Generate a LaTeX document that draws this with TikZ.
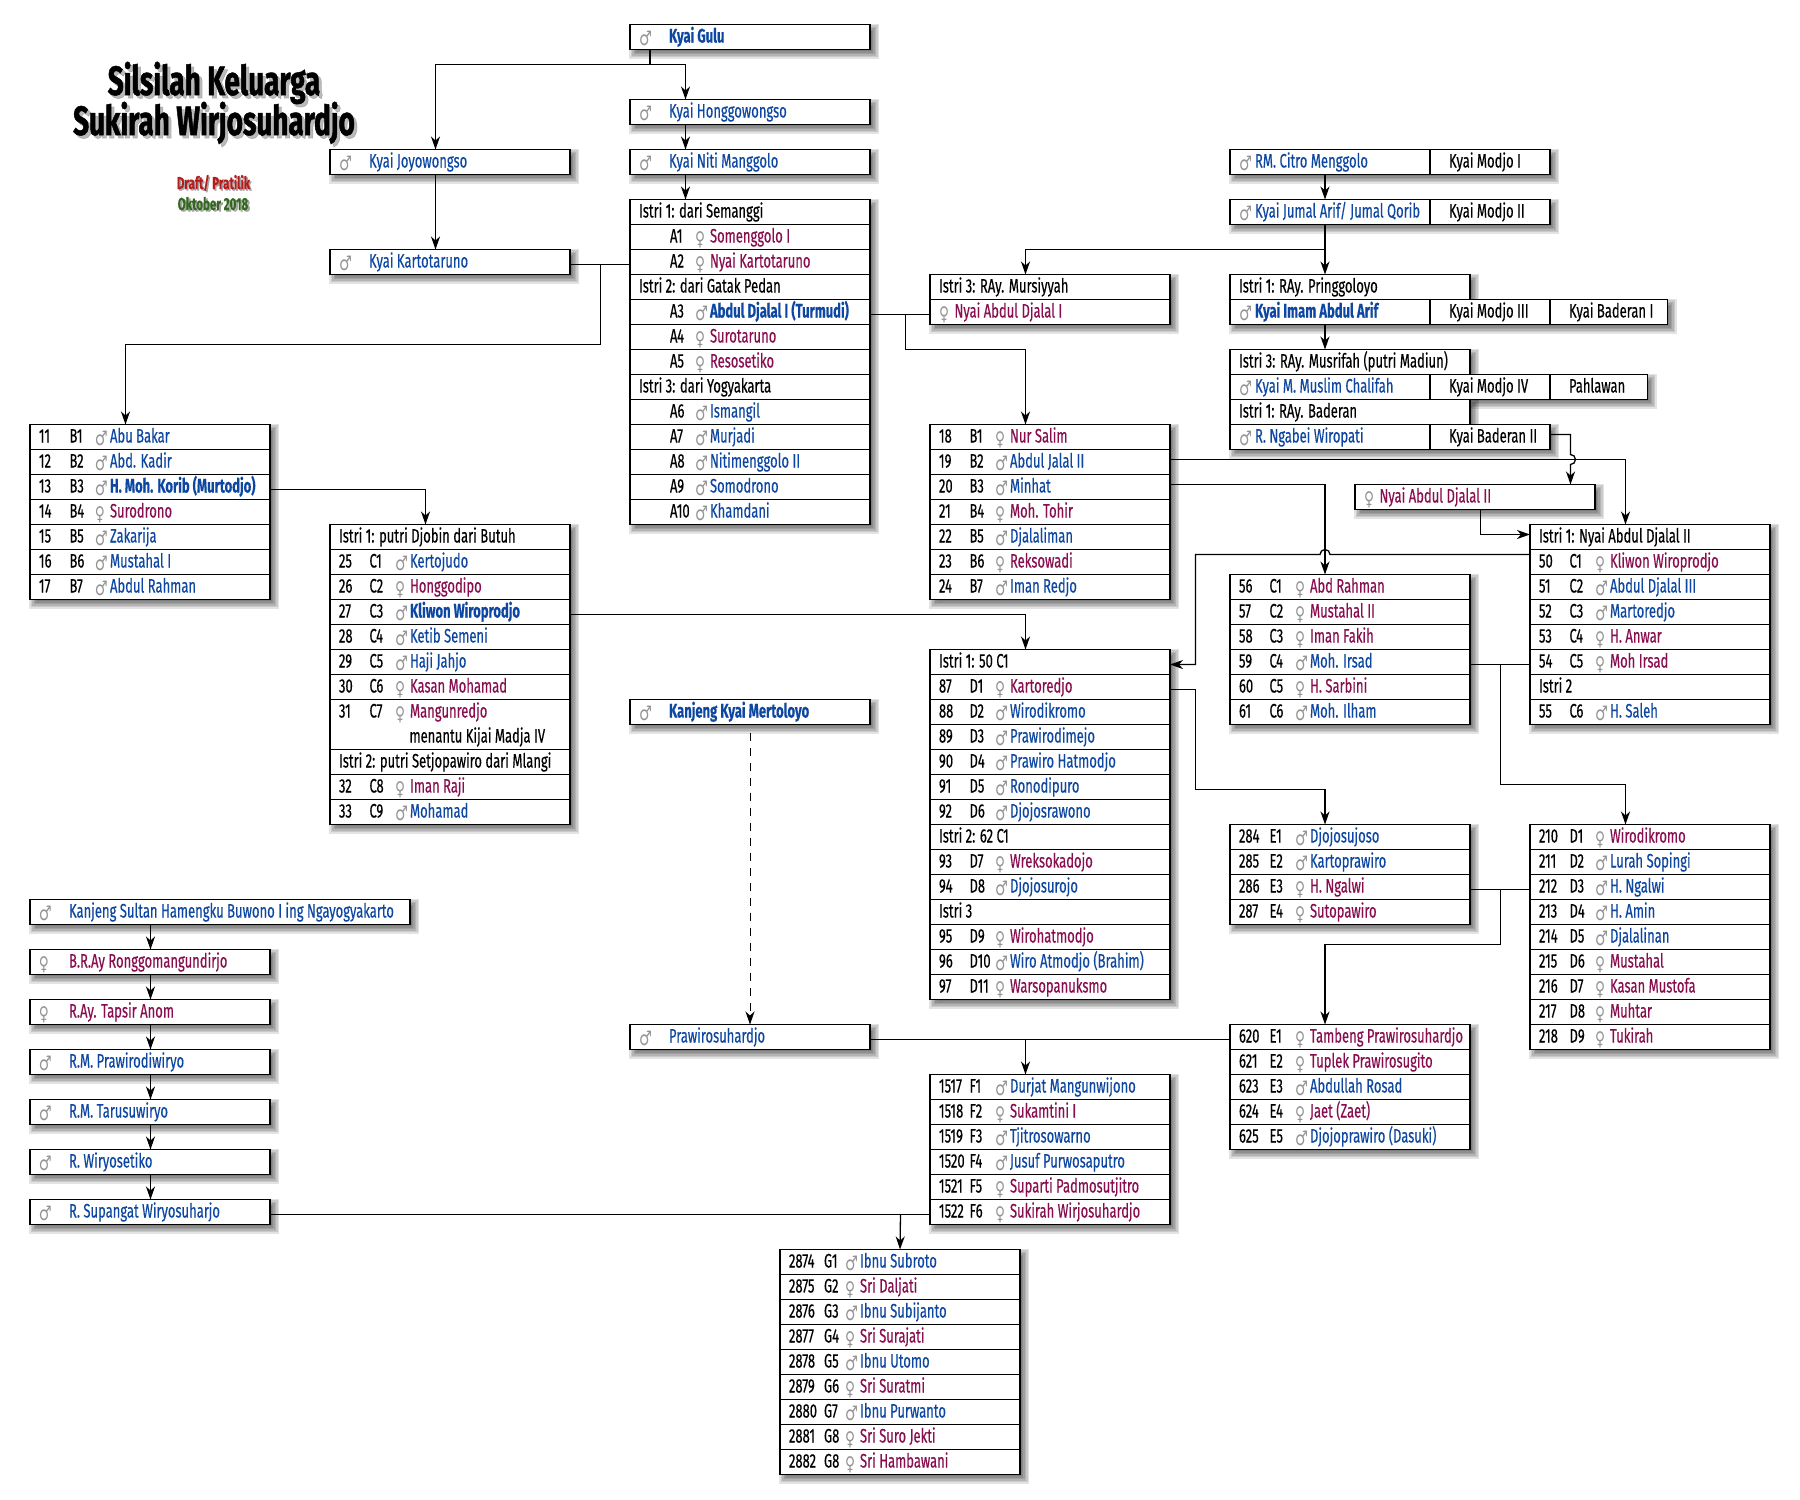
\documentclass[tikz,border=0pt]{standalone}
\usepackage{fontspec}
\usepackage{xcolor}
\usetikzlibrary{arrows.meta}
\setmainfont[FakeStretch=0.667,FakeBold=0.35]{Fira Sans}
\newfontfamily\titlef[FakeStretch=0.68,FakeBold=1.2]{Fira Sans}
\newfontfamily\symf[FakeStretch=0.72]{DejaVu Sans}
\definecolor{mblue}{HTML}{0D47A1}
\definecolor{mpink}{HTML}{880E4F}
\definecolor{mred}{HTML}{B71C1C}
\definecolor{mgreen}{HTML}{33691E}
\newlength\symw
\setlength\symw{15pt}
\newcommand\sm{\raisebox{-3pt}{\textcolor{black!42}{\fontsize{20}{20}\symf ♂}}}
\newcommand\sw{\raisebox{-3pt}{\textcolor{black!42}{\fontsize{19}{19}\symf ♀}}}
\newcommand\M[1]{\makebox[\symw][l]{\sm}\textcolor{mblue}{#1}}
\newcommand\MB[1]{\makebox[\symw][l]{\sm}\textcolor{mblue}{\bfseries #1}}
\newcommand\W[1]{\makebox[\symw][l]{\sw}\textcolor{mpink}{#1}}
\tikzset{
  cell/.style={draw=black,fill=white,line width=1.5pt,anchor=north west,inner sep=0pt,outer sep=0pt,text height=18pt,text depth=7pt,font=\fontsize{19.5}{21}\selectfont},
  plain/.style={anchor=north west,inner sep=0pt,outer sep=0pt,text height=18pt,text depth=7pt,font=\fontsize{19.5}{21}\selectfont},
  link/.style={line width=1.3pt,draw=black},
  arr/.style={link,-{Stealth[length=13pt,width=9pt,inset=4pt]}},
}
% shadow: x, k, width, rows
\newcommand\shad[4]{\foreach \s in {5,3.5,2,0.5,-1,-2.5}{\fill[black,opacity=.11] ({#1+4-\s},{24.5+25*#2+4-\s}) rectangle ({#1+#3+4+\s},{24.5+25*#2+25*#4+4+\s});}}
\newcommand\R[6]{\node[cell] (#1) at (#2,{24.5+25*#3}) {\makebox[240pt][l]{\hspace*{9pt}\makebox[30.5pt][l]{#4}\makebox[25.5pt][l]{#5}#6}};}
\newcommand\Gr[5]{\node[cell] (#1) at (780,{24.5+25*#2}) {\makebox[240pt][l]{\hspace*{9pt}\makebox[35pt][l]{#3}\makebox[21pt][l]{#4}#5}};}
\newcommand\A[4]{\node[cell] (#1) at (630,{24.5+25*#2}) {\makebox[240pt][l]{\hspace*{40pt}\makebox[25pt][l]{#3}#4}};}
\newcommand\Hd[5]{\node[cell] (#1) at (#2,{24.5+25*#3}) {\makebox[#4pt][l]{\hspace*{9pt}#5}};}
\newcommand\Pn[6]{\node[cell] (#1) at (#2,{24.5+25*#3}) {\symw=#5pt\makebox[#4pt][l]{\hspace*{9pt}#6}};}
\newcommand\Cl[5]{\node[cell] (#1) at (#2,{24.5+25*#3}) {\makebox[#4pt][l]{\hspace*{19pt}#5}};}
\begin{document}
\begin{tikzpicture}[x=1pt,y=-1pt]
\useasboundingbox (0,0) rectangle (1800,1500);
% title
\node[anchor=base,inner sep=0pt,text=black!45,opacity=.6,font=\titlef\bfseries\fontsize{41}{41}\selectfont] (ts1) at (217,98) {Silsilah Keluarga};
\node[anchor=base,inner sep=0pt,text=black!45,opacity=.6,font=\titlef\bfseries\fontsize{41}{41}\selectfont] (ts2) at (217,138) {Sukirah Wirjosuhardjo};
\node[anchor=base,inner sep=0pt,font=\titlef\bfseries\fontsize{41}{41}\selectfont] (t1) at (214,95) {Silsilah Keluarga};
\node[anchor=base,inner sep=0pt,font=\titlef\bfseries\fontsize{41}{41}\selectfont] (t2) at (214,135) {Sukirah Wirjosuhardjo};
\node[anchor=base,inner sep=0pt,text=black!35,font=\bfseries\fontsize{17.3}{17}\selectfont] (d0) at (215,190.5) {Draft/ Pratilik};
\node[anchor=base,inner sep=0pt,text=black!35,font=\bfseries\fontsize{17.3}{17}\selectfont] (o0) at (215,211.5) {Oktober 2018};
\node[anchor=base,inner sep=0pt,text=mred,font=\bfseries\fontsize{17.3}{17}\selectfont] (d1) at (213.5,189) {Draft/ Pratilik};
\node[anchor=base,inner sep=0pt,text=mgreen,font=\bfseries\fontsize{17.3}{17}\selectfont] (o1) at (213,210) {Oktober 2018};
% single boxes
\shad{630}{0}{240}{1}\Pn{gulu}{630}{0}{240}{30}{\MB{Kyai Gulu}}
\shad{630}{3}{240}{1}\Pn{hong}{630}{3}{240}{30}{\M{Kyai Honggowongso}}
\shad{630}{5}{240}{1}\Pn{niti}{630}{5}{240}{30}{\M{Kyai Niti Manggolo}}
\shad{330}{5}{240}{1}\Pn{joyo}{330}{5}{240}{30}{\M{Kyai Joyowongso}}
\shad{330}{9}{240}{1}\Pn{karto}{330}{9}{240}{30}{\M{Kyai Kartotaruno}}
\shad{630}{27}{240}{1}\Pn{mert}{630}{27}{240}{30}{\MB{Kanjeng Kyai Mertoloyo}}
\shad{630}{40}{240}{1}\Pn{praw}{630}{40}{240}{30}{\M{Prawirosuhardjo}}
% left stack
\shad{30}{35}{380}{1}\Pn{l1}{30}{35}{380}{30}{\M{Kanjeng Sultan Hamengku Buwono I ing Ngayogyakarto}}
\shad{30}{37}{240}{1}\Pn{l2}{30}{37}{240}{30}{\W{B.R.Ay Ronggomangundirjo}}
\shad{30}{39}{240}{1}\Pn{l3}{30}{39}{240}{30}{\W{R.Ay. Tapsir Anom}}
\shad{30}{41}{240}{1}\Pn{l4}{30}{41}{240}{30}{\M{R.M. Prawirodiwiryo}}
\shad{30}{43}{240}{1}\Pn{l5}{30}{43}{240}{30}{\M{R.M. Tarusuwiryo}}
\shad{30}{45}{240}{1}\Pn{l6}{30}{45}{240}{30}{\M{R. Wiryosetiko}}
\shad{30}{47}{240}{1}\Pn{l7}{30}{47}{240}{30}{\M{R. Supangat Wiryosuharjo}}
% A box
\shad{630}{7}{240}{13}
\Hd{ai1}{630}{7}{240}{Istri 1: dari Semanggi}
\A{a1}{8}{A1}{\W{Somenggolo I}}
\A{a2}{9}{A2}{\W{Nyai Kartotaruno}}
\Hd{ai2}{630}{10}{240}{Istri 2: dari Gatak Pedan}
\A{a3}{11}{A3}{\MB{Abdul Djalal I (Turmudi)}}
\A{a4}{12}{A4}{\W{Surotaruno}}
\A{a5}{13}{A5}{\W{Resosetiko}}
\Hd{ai3}{630}{14}{240}{Istri 3: dari Yogyakarta}
\A{a6}{15}{A6}{\M{Ismangil}}
\A{a7}{16}{A7}{\M{Murjadi}}
\A{a8}{17}{A8}{\M{Nitimenggolo II}}
\A{a9}{18}{A9}{\M{Somodrono}}
\A{a10}{19}{A10}{\M{Khamdani}}
% B1
\shad{30}{16}{240}{7}
\R{b11}{30}{16}{11}{B1}{\M{Abu Bakar}}
\R{b12}{30}{17}{12}{B2}{\M{Abd. Kadir}}
\R{b13}{30}{18}{13}{B3}{\MB{H. Moh. Korib (Murtodjo)}}
\R{b14}{30}{19}{14}{B4}{\W{Surodrono}}
\R{b15}{30}{20}{15}{B5}{\M{Zakarija}}
\R{b16}{30}{21}{16}{B6}{\M{Mustahal I}}
\R{b17}{30}{22}{17}{B7}{\M{Abdul Rahman}}
% C1
\shad{330}{20}{240}{12}
\Hd{ci1}{330}{20}{240}{Istri 1: putri Djobin dari Butuh}
\R{c25}{330}{21}{25}{C1}{\M{Kertojudo}}
\R{c26}{330}{22}{26}{C2}{\W{Honggodipo}}
\R{c27}{330}{23}{27}{C3}{\MB{Kliwon Wiroprodjo}}
\R{c28}{330}{24}{28}{C4}{\M{Ketib Semeni}}
\R{c29}{330}{25}{29}{C5}{\M{Haji Jahjo}}
\R{c30}{330}{26}{30}{C6}{\W{Kasan Mohamad}}
\node[cell,text depth=32pt] (c31) at (330,{24.5+25*27}) {\makebox[240pt][l]{\hspace*{9pt}\makebox[30.5pt][l]{31}\makebox[25.5pt][l]{C7}\W{Mangunredjo}}};
\node[plain] (c31b) at (330,{24.5+25*28}) {\makebox[240pt][l]{\hspace*{79.5pt}menantu Kijai Madja IV}};
\Hd{ci2}{330}{29}{240}{Istri 2: putri Setjopawiro dari Mlangi}
\R{c32}{330}{30}{32}{C8}{\W{Iman Raji}}
\R{c33}{330}{31}{33}{C9}{\M{Mohamad}}
% right tops
\shad{1230}{5}{320}{1}
\Pn{citro}{1230}{5}{200}{16}{\M{RM. Citro Menggolo}}\Cl{modj1}{1430}{5}{120}{Kyai Modjo I}
\shad{1230}{7}{320}{1}
\Pn{jumal}{1230}{7}{200}{16}{\M{Kyai Jumal Arif/ Jumal Qorib}}\Cl{modj2}{1430}{7}{120}{Kyai Modjo II}
\shad{930}{10}{240}{2}
\Hd{mursi}{930}{10}{240}{Istri 3: RAy. Mursiyyah}
\Pn{nyai1}{930}{11}{240}{15.5}{\W{Nyai Abdul Djalal I}}
\shad{1230}{10}{240}{1}\shad{1230}{11}{437.5}{1}
\Hd{pring}{1230}{10}{240}{Istri 1: RAy. Pringgoloyo}
\Pn{imam}{1230}{11}{200}{16}{\MB{Kyai Imam Abdul Arif}}\Cl{modj3}{1430}{11}{120}{Kyai Modjo III}\Cl{bad1}{1550}{11}{117.5}{Kyai Baderan I}
\shad{1230}{13}{240}{1}\shad{1230}{14}{417.5}{1}\shad{1230}{15}{240}{1}\shad{1230}{16}{320}{1}
\Hd{musr}{1230}{13}{240}{Istri 3: RAy. Musrifah (putri Madiun)}
\Pn{musl}{1230}{14}{200}{16}{\M{Kyai M. Muslim Chalifah}}\Cl{modj4}{1430}{14}{120}{Kyai Modjo IV}\Cl{pahl}{1550}{14}{97.5}{Pahlawan}
\Hd{bade}{1230}{15}{240}{Istri 1: RAy. Baderan}
\Pn{wiro}{1230}{16}{200}{16}{\M{R. Ngabei Wiropati}}\Cl{bad2}{1430}{16}{120}{Kyai Baderan II}
\shad{1355}{18.4}{240}{1}
\Pn{nyai2}{1355}{18.4}{240}{15.5}{\W{Nyai Abdul Djalal II}}
% B2
\shad{930}{16}{240}{7}
\R{b18}{930}{16}{18}{B1}{\W{Nur Salim}}
\R{b19}{930}{17}{19}{B2}{\M{Abdul Jalal II}}
\R{b20}{930}{18}{20}{B3}{\M{Minhat}}
\R{b21}{930}{19}{21}{B4}{\W{Moh. Tohir}}
\R{b22}{930}{20}{22}{B5}{\M{Djalaliman}}
\R{b23}{930}{21}{23}{B6}{\W{Reksowadi}}
\R{b24}{930}{22}{24}{B7}{\M{Iman Redjo}}
% C 50
\shad{1530}{20}{240}{8}
\Hd{ni1}{1530}{20}{240}{Istri 1: Nyai Abdul Djalal II}
\R{c50}{1530}{21}{50}{C1}{\W{Kliwon Wiroprodjo}}
\R{c51}{1530}{22}{51}{C2}{\M{Abdul Djalal III}}
\R{c52}{1530}{23}{52}{C3}{\M{Martoredjo}}
\R{c53}{1530}{24}{53}{C4}{\W{H. Anwar}}
\R{c54}{1530}{25}{54}{C5}{\W{Moh Irsad}}
\Hd{ni2}{1530}{26}{240}{Istri 2}
\R{c55}{1530}{27}{55}{C6}{\M{H. Saleh}}
% C 56
\shad{1230}{22}{240}{6}
\R{c56}{1230}{22}{56}{C1}{\W{Abd Rahman}}
\R{c57}{1230}{23}{57}{C2}{\W{Mustahal II}}
\R{c58}{1230}{24}{58}{C3}{\W{Iman Fakih}}
\R{c59}{1230}{25}{59}{C4}{\M{Moh. Irsad}}
\R{c60}{1230}{26}{60}{C5}{\W{H. Sarbini}}
\R{c61}{1230}{27}{61}{C6}{\M{Moh. Ilham}}
% D 87
\shad{930}{25}{240}{14}
\Hd{di1}{930}{25}{240}{Istri 1: 50 C1}
\R{d87}{930}{26}{87}{D1}{\W{Kartoredjo}}
\R{d88}{930}{27}{88}{D2}{\M{Wirodikromo}}
\R{d89}{930}{28}{89}{D3}{\M{Prawirodimejo}}
\R{d90}{930}{29}{90}{D4}{\M{Prawiro Hatmodjo}}
\R{d91}{930}{30}{91}{D5}{\M{Ronodipuro}}
\R{d92}{930}{31}{92}{D6}{\M{Djojosrawono}}
\Hd{di2}{930}{32}{240}{Istri 2: 62 C1}
\R{d93}{930}{33}{93}{D7}{\W{Wreksokadojo}}
\R{d94}{930}{34}{94}{D8}{\M{Djojosurojo}}
\Hd{di3}{930}{35}{240}{Istri 3}
\R{d95}{930}{36}{95}{D9}{\W{Wirohatmodjo}}
\R{d96}{930}{37}{96}{D10}{\M{Wiro Atmodjo (Brahim)}}
\R{d97}{930}{38}{97}{D11}{\W{Warsopanuksmo}}
% E 284
\shad{1230}{32}{240}{4}
\R{e284}{1230}{32}{284}{E1}{\M{Djojosujoso}}
\R{e285}{1230}{33}{285}{E2}{\M{Kartoprawiro}}
\R{e286}{1230}{34}{286}{E3}{\W{H. Ngalwi}}
\R{e287}{1230}{35}{287}{E4}{\W{Sutopawiro}}
% D 210
\shad{1530}{32}{240}{9}
\R{d210}{1530}{32}{210}{D1}{\W{Wirodikromo}}
\R{d211}{1530}{33}{211}{D2}{\M{Lurah Sopingi}}
\R{d212}{1530}{34}{212}{D3}{\M{H. Ngalwi}}
\R{d213}{1530}{35}{213}{D4}{\M{H. Amin}}
\R{d214}{1530}{36}{214}{D5}{\M{Djalalinan}}
\R{d215}{1530}{37}{215}{D6}{\W{Mustahal}}
\R{d216}{1530}{38}{216}{D7}{\W{Kasan Mustofa}}
\R{d217}{1530}{39}{217}{D8}{\W{Muhtar}}
\R{d218}{1530}{40}{218}{D9}{\W{Tukirah}}
% E 620
\shad{1230}{40}{240}{5}
\R{e620}{1230}{40}{620}{E1}{\W{Tambeng Prawirosuhardjo}}
\R{e621}{1230}{41}{621}{E2}{\W{Tuplek Prawirosugito}}
\R{e623}{1230}{42}{623}{E3}{\M{Abdullah Rosad}}
\R{e624}{1230}{43}{624}{E4}{\W{Jaet (Zaet)}}
\R{e625}{1230}{44}{625}{E5}{\M{Djojoprawiro (Dasuki)}}
% F
\shad{930}{42}{240}{6}
\R{f1}{930}{42}{1517}{F1}{\M{Durjat Mangunwijono}}
\R{f2}{930}{43}{1518}{F2}{\W{Sukamtini I}}
\R{f3}{930}{44}{1519}{F3}{\M{Tjitrosowarno}}
\R{f4}{930}{45}{1520}{F4}{\M{Jusuf Purwosaputro}}
\R{f5}{930}{46}{1521}{F5}{\W{Suparti Padmosutjitro}}
\R{f6}{930}{47}{1522}{F6}{\W{Sukirah Wirjosuhardjo}}
% G
\shad{780}{49}{240}{9}
\Gr{g1}{49}{2874}{G1}{\M{Ibnu Subroto}}
\Gr{g2}{50}{2875}{G2}{\W{Sri Daljati}}
\Gr{g3}{51}{2876}{G3}{\M{Ibnu Subijanto}}
\Gr{g4}{52}{2877}{G4}{\W{Sri Surajati}}
\Gr{g5}{53}{2878}{G5}{\M{Ibnu Utomo}}
\Gr{g6}{54}{2879}{G6}{\W{Sri Suratmi}}
\Gr{g7}{55}{2880}{G7}{\M{Ibnu Purwanto}}
\Gr{g8}{56}{2881}{G8}{\W{Sri Suro Jekti}}
\Gr{g9}{57}{2882}{G8}{\W{Sri Hambawani}}
% junction coordinates
\coordinate (jg) at (650,64.5);
\coordinate (jk) at (600.5,264.5);
\coordinate (jj) at (1325,249.5);
\coordinate (ja) at (905.5,314.5);
\coordinate (js) at (1500.5,664.5);
\coordinate (je) at (1500.5,889.5);
\coordinate (jp) at (1025.5,1039.5);
\coordinate (jf) at (900.5,1214.5);
% connectors
\draw[link] ([xshift=20pt]gulu.south west) -- (jg);
\draw[arr] (jg) -| ([xshift=105.5pt]joyo.north west);
\draw[arr] (jg) -| ([xshift=55.5pt]hong.north west);
\draw[arr] ([xshift=55.5pt]hong.south west) -- ([xshift=55.5pt]niti.north west);
\draw[arr] ([xshift=55.5pt]niti.south west) -- ([xshift=55.5pt]ai1.north west);
\draw[arr] ([xshift=105.5pt]joyo.south west) -- ([xshift=105.5pt]karto.north west);
\draw[link] ([yshift=-15pt]karto.north east) -- ([yshift=-15pt]a2.north west);
\draw[arr] (jk) |- (125.5,344.5) -- ([xshift=95.5pt]b11.north west);
\draw[arr] ([yshift=-15pt]b13.north east) -| ([xshift=95.5pt]ci1.north west);
\draw[arr] ([xshift=95pt]citro.south west) -- ([xshift=95pt]jumal.north west);
\draw[arr] ([xshift=95pt]jumal.south west) -- ([xshift=95pt]pring.north west);
\draw[arr] (jj) -| ([xshift=95.5pt]mursi.north west);
\draw[arr] ([xshift=95pt]imam.south west) -- ([xshift=95pt]musr.north west);
\draw[link] ([yshift=-15pt]a3.north east) -- ([yshift=-15pt]nyai1.north west);
\draw[arr] (ja) |- (1025.5,349.5) -- ([xshift=95.5pt]b18.north west);
\draw[arr] ([yshift=-15pt]c27.north east) -| ([xshift=95.5pt]di1.north west);
\draw[arr] ([yshift=-10pt]b19.north east) -| ([xshift=95.5pt]ni1.north west);
\draw[arr] ([yshift=-10pt]b20.north east) -| ([xshift=95pt]c56.north west);
\draw[arr] ([yshift=-5pt]c50.north west) -- (1330,554.5) arc[start angle=0,end angle=180,radius=5pt] -- (1195.5,554.5) |- ([yshift=-15pt]di1.north east);
\draw[arr] ([yshift=-15pt]d87.north east) -- (1195.5,689.5) |- (1325,789.5) -- ([xshift=95pt]e284.north west);
\draw[link] ([yshift=-15pt]c59.north east) -- ([yshift=-15pt]c54.north west);
\draw[arr] (js) |- (1625.5,784.5) -- ([xshift=95.5pt]d210.north west);
\draw[link] ([yshift=-15pt]e286.north east) -- ([yshift=-15pt]d212.north west);
\draw[arr] (je) |- (1325,944.5) -- ([xshift=95pt]e620.north west);
\draw[arr] ([yshift=-10pt]bad2.north east) -| (1570.5,454.5) arc[start angle=90,end angle=-90,radius=5pt] -- ([xshift=215.5pt]nyai2.north west);
\draw[arr] ([xshift=125.5pt]nyai2.south west) |- ([yshift=-10pt]ni1.north west);
\draw[arr,line width=0.9pt,dash pattern=on 8pt off 7pt] ([yshift=-8pt]mert.south) -- (praw.north);
\draw[link] ([yshift=-15pt]praw.north east) -- ([yshift=-15pt]e620.north west);
\draw[arr] (jp) -- ([xshift=95.5pt]f1.north west);
\draw[link] ([yshift=-15pt]l7.north east) -- ([yshift=-15pt]f6.north west);
\draw[arr] (jf) -- (g1.north);
\foreach \a/\b in {l1/l2,l2/l3,l3/l4,l4/l5,l5/l6,l6/l7}{\draw[arr,line width=1pt] ([xshift=120.5pt]\a.south west) -- ([xshift=120.5pt]\b.north west);}
\end{tikzpicture}
\end{document}
